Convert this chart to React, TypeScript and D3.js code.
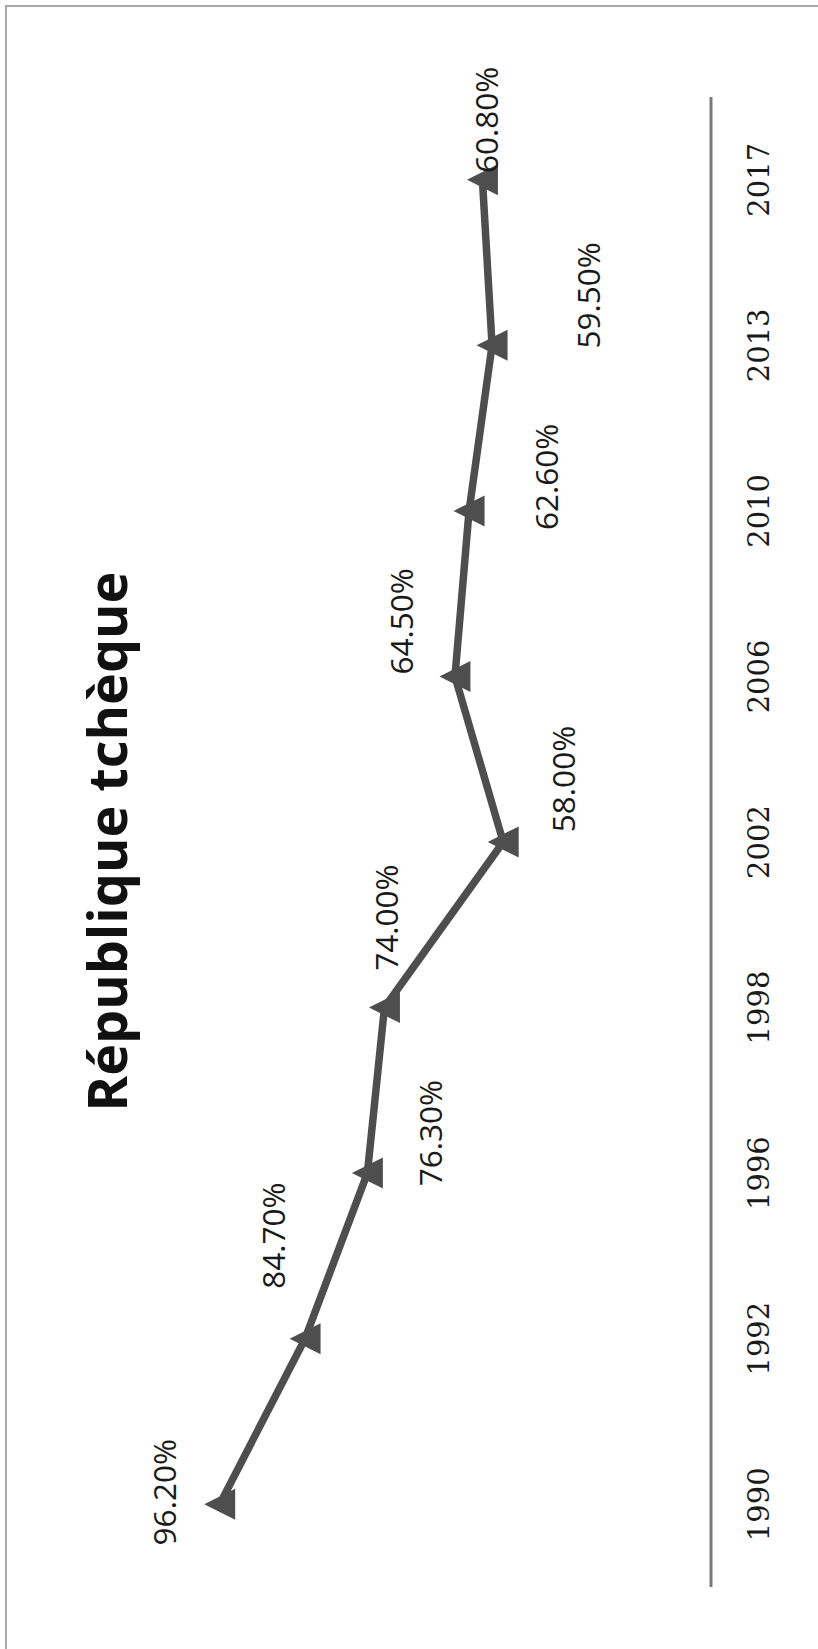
import React from "react";
import * as d3 from "d3";

// ---- data ----
const years: string[] = ["1990", "1992", "1996", "1998", "2002", "2006", "2010", "2013", "2017"];
const turnout: number[] = [96.2, 84.7, 76.3, 74.0, 58.0, 64.5, 62.6, 59.5, 60.8];
const valueDomain: [number, number] = [30, 100];
const title = "République tchèque";

// ---- layout (manual data-label nudges, page px [dx, dy]) ----
const labelShift: [number, number][] = [
  [-55, -12],
  [-31, -103],
  [63, -40],
  [2, -90],
  [60, -63],
  [-53, -55],
  [78, -34],
  [97, -50],
  [4, -60],
];

const W = 818;
const H = 1649;
const LINE = "#4e4e4e";

export default function App() {
  // chart is drawn rotated: categories run bottom->top, values grow leftwards
  const y = d3
    .scaleBand<string>()
    .domain([...years].reverse())
    .range([97, 1587])
    .padding(0);
  const x = d3.scaleLinear().domain(valueDomain).range([711, 191.5]);
  const yc = (yr: string) => (y(yr) as number) + y.bandwidth() / 2;

  const pts = years.map((yr, i) => ({ yr, v: turnout[i], px: x(turnout[i]), py: yc(yr) }));
  const line = d3
    .line<{ px: number; py: number }>()
    .x((d) => d.px)
    .y((d) => d.py);

  const tri = (cx: number, cy: number, s: number) =>
    `M${cx - s},${cy} L${cx + s},${cy - s} L${cx + s},${cy + s} Z`;

  const axisX = x(valueDomain[0]);

  return (
    <svg
      width={W}
      height={H}
      style={{ position: "absolute", left: 0, top: 0, display: "block", background: "#fff" }}
    >
      <rect x={0} y={0} width={W} height={H} fill="#fff" />
      {/* frame */}
      <path d={`M6,${H} V6 H${W}`} fill="none" stroke="#a8a8a8" strokeWidth={2} />

      {/* title */}
      <text
        transform={`translate(127, 841.5) rotate(-90)`}
        textAnchor="middle"
        fontFamily="'Open Sans', sans-serif"
        fontWeight={700}
        fontSize={54}
        textLength={540}
        lengthAdjust="spacingAndGlyphs"
        fill="#111"
      >
        {title}
      </text>

      {/* category axis line */}
      <line x1={axisX} x2={axisX} y1={y.range()[0]} y2={y.range()[1]} stroke="#7a7a7a" strokeWidth={3} />

      {/* category labels */}
      {years.map((yr) => (
        <text
          key={yr}
          transform={`translate(758.5, ${yc(yr)}) rotate(-90)`}
          textAnchor="middle"
          dy="0.365em"
          fontFamily="'DejaVu Serif', serif"
          fontSize={29}
          fill="#1a1a1a"
        >
          {yr}
        </text>
      ))}

      {/* series */}
      <path
        d={line(pts) as string}
        fill="none"
        stroke={LINE}
        strokeWidth={7.5}
        strokeLinejoin="round"
        strokeLinecap="round"
      />
      {pts.map((p) => (
        <path key={p.yr} d={tri(p.px, p.py, 15.5)} fill={LINE} />
      ))}

      {/* data labels */}
      {pts.map((p, i) => (
        <text
          key={"l" + p.yr}
          transform={`translate(${p.px + labelShift[i][0]}, ${p.py + labelShift[i][1]}) rotate(-90)`}
          textAnchor="middle"
          dy="0.36em"
          fontFamily="'Open Sans', sans-serif"
          fontSize={31.5}
          fill="#1a1a1a"
        >
          {p.v.toFixed(2) + "%"}
        </text>
      ))}
    </svg>
  );
}
